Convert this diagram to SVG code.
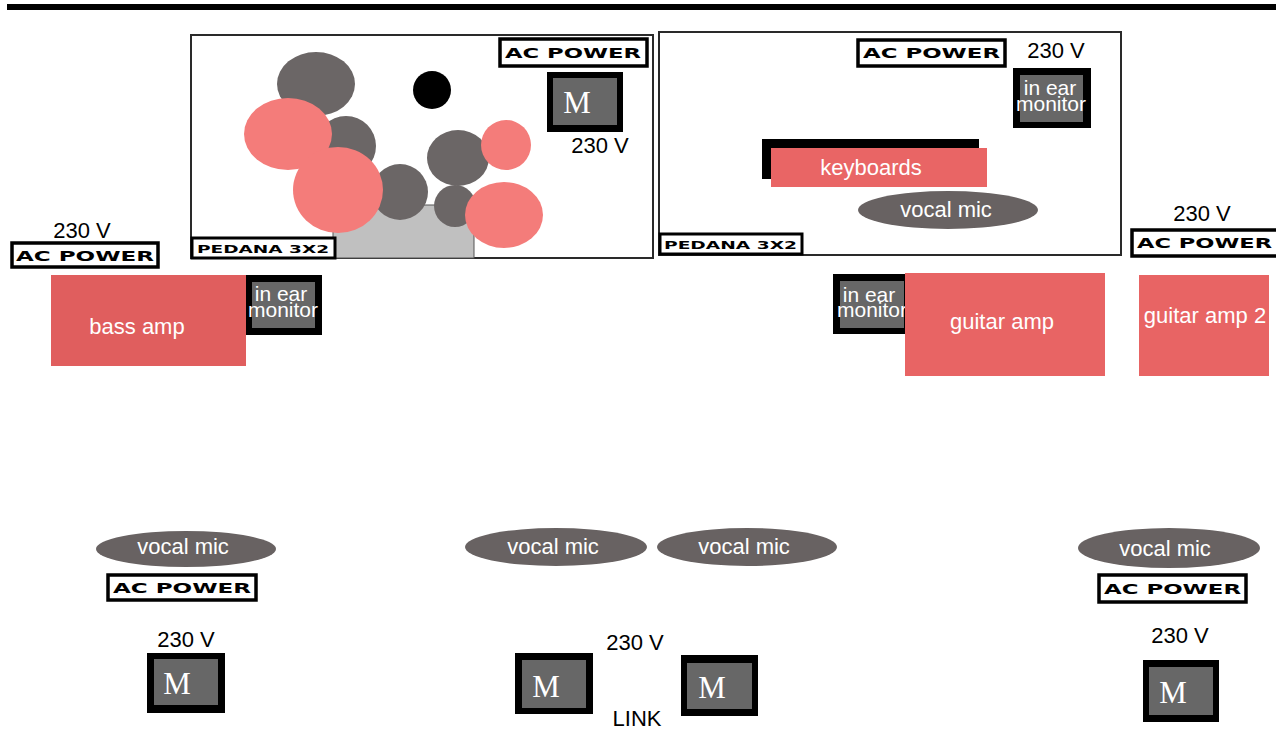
<svg xmlns="http://www.w3.org/2000/svg" width="1276" height="749" viewBox="0 0 1276 749">
  <style>
    .lbl { font-family: "Liberation Sans", Arial, sans-serif; font-size: 22px; text-anchor: middle; }
    .iem { font-family: "Liberation Sans", Arial, sans-serif; font-size: 21px; text-anchor: middle; fill: #fff; }
    .w { fill: #ffffff; }
    .k { fill: #000000; }
    .ac { font-family: "DejaVu Sans", "Liberation Sans", sans-serif; font-weight: 900; font-size: 14px; fill: #000; }
    .ped { font-family: "DejaVu Sans", "Liberation Sans", sans-serif; font-weight: 900; font-size: 10px; fill: #000; }
    .acbox { fill: #fff; stroke: #000; stroke-width: 3.5; }
    .pedbox { fill: #fff; stroke: #000; stroke-width: 3; }
    .riser { fill: #fff; stroke: #2a2a2a; stroke-width: 2; }
    .mon-out { fill: #000; }
    .mon-in { fill: #676767; }
    .mfont { font-family: "Liberation Serif", "Times New Roman", serif; font-size: 31px; fill: #fff; text-anchor: middle; }
    .amp { fill: #e86464; }
    .mic { fill: #686262; }
    .drum-g { fill: #6b6666; }
    .drum-p { fill: #f47c7a; }
  </style>

  <!-- stage front edge -->
  <rect x="7" y="4" width="1269" height="6" fill="#000"/>

  <!-- drum riser -->
  <g id="drum-riser">
    <rect class="riser" x="191" y="35" width="462" height="223"/>
    <rect x="333" y="205" width="141" height="53" fill="#c0c0c0" stroke="#555" stroke-width="1"/>
    <ellipse class="drum-g" cx="316" cy="84" rx="39" ry="32"/>
    <circle class="drum-g" cx="346" cy="146" r="30"/>
    <ellipse class="drum-p" cx="288" cy="134" rx="44" ry="36"/>
    <circle class="drum-g" cx="400" cy="192" r="28"/>
    <ellipse class="drum-g" cx="458" cy="158" rx="31" ry="28"/>
    <circle class="drum-g" cx="455" cy="206" r="21"/>
    <ellipse class="drum-p" cx="338" cy="190" rx="45" ry="43"/>
    <circle class="drum-p" cx="506" cy="145" r="25"/>
    <ellipse class="drum-p" cx="504" cy="215" rx="39" ry="33"/>
    <circle cx="432" cy="90" r="19" fill="#000"/>
    <rect class="pedbox" x="192" y="238" width="143" height="20"/>
    <text class="ped" x="197" y="253" textLength="132" lengthAdjust="spacingAndGlyphs">PEDANA 3X2</text>
  </g>

  <g id="drum-power">
    <rect class="acbox" x="500" y="39" width="147" height="27"/>
    <text class="ac" x="505" y="58" textLength="136" lengthAdjust="spacingAndGlyphs">AC POWER</text>
  </g>

  <g id="drum-monitor">
    <rect class="mon-out" x="547" y="72" width="76" height="60"/>
    <rect class="mon-in" x="553" y="78" width="64" height="47"/>
    <text class="mfont" x="577" y="113">M</text>
    <text class="lbl k" x="600" y="153">230 V</text>
  </g>

  <!-- keyboard riser -->
  <g id="keys-riser">
    <rect class="riser" x="659" y="32" width="462" height="223"/>
    <rect class="pedbox" x="660" y="234" width="142" height="20"/>
    <text class="ped" x="664" y="249" textLength="133" lengthAdjust="spacingAndGlyphs">PEDANA 3X2</text>
  </g>

  <g id="keys-power">
    <rect class="acbox" x="858" y="40" width="147" height="26"/>
    <text class="ac" x="863" y="58" textLength="137" lengthAdjust="spacingAndGlyphs">AC POWER</text>
    <text class="lbl k" x="1056" y="58">230 V</text>
  </g>

  <g id="keys-monitor">
    <rect class="mon-out" x="1013" y="68" width="78" height="60"/>
    <rect class="mon-in" x="1020" y="75" width="63" height="47"/>
    <text class="iem" x="1050" y="95">in ear</text>
    <text class="iem" x="1051" y="111">monitor</text>
  </g>

  <g id="keyboards">
    <rect x="762" y="139" width="217" height="40" fill="#000"/>
    <rect x="771" y="148" width="216" height="39" fill="#e96565"/>
    <text class="lbl w" x="871" y="175">keyboards</text>
  </g>

  <g id="keys-mic">
    <ellipse class="mic" cx="948" cy="210" rx="90" ry="19"/>
    <text class="lbl w" x="946" y="217">vocal mic</text>
  </g>

  <!-- bass -->
  <g id="bass-power">
    <text class="lbl k" x="82" y="238">230 V</text>
    <rect class="acbox" x="12" y="243" width="146" height="24"/>
    <text class="ac" x="16" y="261" textLength="138" lengthAdjust="spacingAndGlyphs">AC POWER</text>
  </g>

  <g id="bass-amp">
    <rect x="51" y="275" width="195" height="91" fill="#e05e5e"/>
    <text class="lbl w" x="137" y="334">bass amp</text>
  </g>

  <g id="bass-monitor">
    <rect class="mon-out" x="246" y="275" width="76" height="60"/>
    <rect class="mon-in" x="252" y="282" width="63" height="46"/>
    <text class="iem" x="281" y="301">in ear</text>
    <text class="iem" x="283" y="317">monitor</text>
  </g>

  <!-- guitars -->
  <g id="guitar-monitor">
    <rect class="mon-out" x="833" y="274" width="73" height="60"/>
    <rect class="mon-in" x="840" y="281" width="64" height="47"/>
    <text class="iem" x="869" y="302">in ear</text>
    <text class="iem" x="872" y="317">monitor</text>
  </g>

  <g id="guitar-amp">
    <rect class="amp" x="905" y="273" width="200" height="103"/>
    <text class="lbl w" x="1002" y="329">guitar amp</text>
  </g>

  <g id="guitar2-power">
    <text class="lbl k" x="1202" y="221">230 V</text>
    <rect class="acbox" x="1132" y="230" width="148" height="26"/>
    <text class="ac" x="1137" y="248" textLength="135" lengthAdjust="spacingAndGlyphs">AC POWER</text>
  </g>

  <g id="guitar-amp-2">
    <rect class="amp" x="1139" y="275" width="130" height="101"/>
    <text class="lbl w" x="1205" y="323">guitar amp 2</text>
  </g>

  <!-- front line -->
  <g id="mic-left">
    <ellipse class="mic" cx="186" cy="549" rx="90" ry="18"/>
    <text class="lbl w" x="183" y="554">vocal mic</text>
  </g>
  <g id="power-left">
    <rect class="acbox" x="108" y="575" width="148" height="25"/>
    <text class="ac" x="113" y="593" textLength="138" lengthAdjust="spacingAndGlyphs">AC POWER</text>
    <text class="lbl k" x="186" y="647">230 V</text>
  </g>
  <g id="monitor-left">
    <rect class="mon-out" x="147" y="653" width="78" height="60"/>
    <rect class="mon-in" x="154" y="659" width="64" height="46"/>
    <text class="mfont" x="177" y="694">M</text>
  </g>

  <g id="mic-center-1">
    <ellipse class="mic" cx="556" cy="547" rx="91" ry="19"/>
    <text class="lbl w" x="553" y="554">vocal mic</text>
  </g>
  <g id="mic-center-2">
    <ellipse class="mic" cx="747" cy="547" rx="90" ry="19"/>
    <text class="lbl w" x="744" y="554">vocal mic</text>
  </g>
  <g id="center-power">
    <text class="lbl k" x="635" y="650">230 V</text>
    <text class="lbl k" x="637" y="726">LINK</text>
  </g>
  <g id="monitor-center-1">
    <rect class="mon-out" x="515" y="653" width="78" height="61"/>
    <rect class="mon-in" x="522" y="660" width="64" height="48"/>
    <text class="mfont" x="546" y="697">M</text>
  </g>
  <g id="monitor-center-2">
    <rect class="mon-out" x="681" y="655" width="77" height="61"/>
    <rect class="mon-in" x="687" y="663" width="65" height="46"/>
    <text class="mfont" x="712" y="698">M</text>
  </g>

  <g id="mic-right">
    <ellipse class="mic" cx="1169" cy="548" rx="91" ry="20"/>
    <text class="lbl w" x="1165" y="556">vocal mic</text>
  </g>
  <g id="power-right">
    <rect class="acbox" x="1099" y="575" width="147" height="27"/>
    <text class="ac" x="1104" y="594" textLength="137" lengthAdjust="spacingAndGlyphs">AC POWER</text>
    <text class="lbl k" x="1180" y="643">230 V</text>
  </g>
  <g id="monitor-right">
    <rect class="mon-out" x="1143" y="660" width="76" height="62"/>
    <rect class="mon-in" x="1149" y="667" width="64" height="48"/>
    <text class="mfont" x="1173" y="703">M</text>
  </g>

  <!-- no cable runs are drawn on this plot -->
  <g id="connectors"/>
</svg>
